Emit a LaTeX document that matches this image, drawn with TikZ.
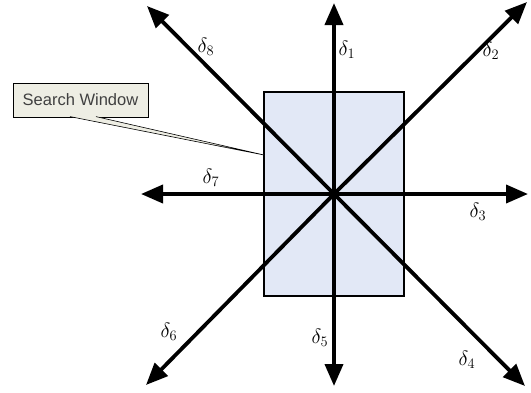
\documentclass[tikz,border=0pt]{standalone}
\usepackage{fontspec}
\newfontfamily\calloutfont{Liberation Sans}
\usetikzlibrary{arrows.meta,positioning}
\definecolor{winfill}{RGB}{226,232,246}
\definecolor{notefill}{RGB}{238,238,228}

\begin{document}
\begin{tikzpicture}[x=1pt,y=-1pt, every node/.style={font=\fontsize{20}{24}\selectfont}, dir/.style={-{Triangle[length=22pt,width=18pt]},line width=3.8pt}, note/.style={draw,fill=notefill,line width=0.8pt,font=\calloutfont\fontsize{16.5}{19}\selectfont,inner sep=5pt,text=black!75}]
\useasboundingbox (0,0) rectangle (531,392);
\node[draw,line width=2.2pt,fill=winfill,minimum width=140pt,minimum height=204pt,inner sep=0pt] (win) at (334,194) {};
\coordinate (c) at (334,194);
\coordinate (d1) at (334,3);\coordinate (d2) at (527,2);\coordinate (d3) at (528,194);\coordinate (d4) at (525,386);
\coordinate (d5) at (334,386);\coordinate (d6) at (146,385);\coordinate (d7) at (141,194);\coordinate (d8) at (147,6);
\foreach \k in {1,...,8} {\draw[dir] (c)--(d\k);}
\node at (347,50) {$\delta_1$};
\node at (491,51) {$\delta_2$};
\node at (478,212) {$\delta_3$};
\node at (467,360) {$\delta_4$};
\node at (320,338) {$\delta_5$};
\node at (169,332) {$\delta_6$};
\node at (211,178) {$\delta_7$};
\node at (206,47) {$\delta_8$};
\node[note,minimum width=135pt,minimum height=34pt] (sw) at (80.5,100) {Search Window};
\fill[notefill,draw=black,line width=0.6pt] (70,116.6)--(264,155)--(96,116.6);
\end{tikzpicture}
\end{document}
